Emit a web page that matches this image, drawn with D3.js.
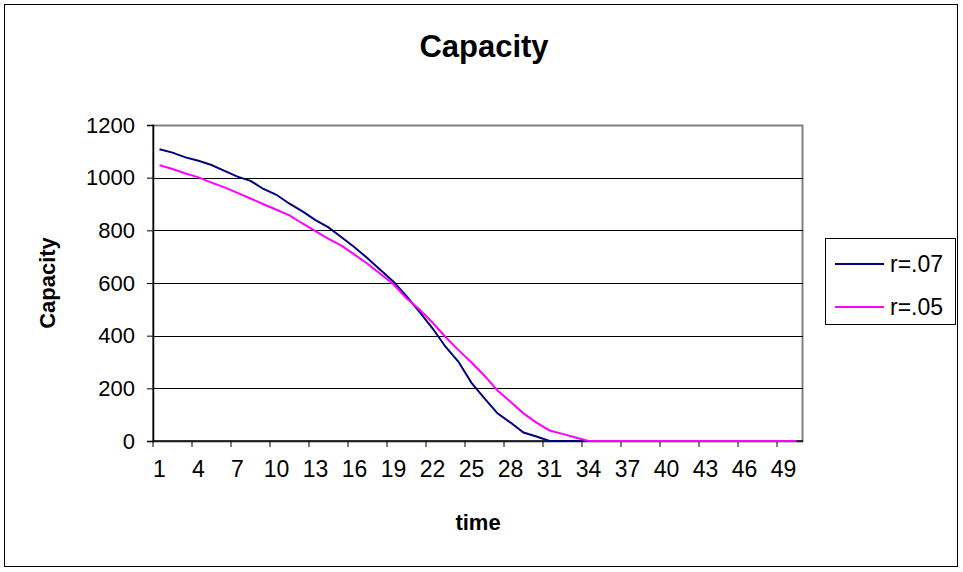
<!DOCTYPE html>
<html>
<head>
<meta charset="utf-8">
<script src="https://cdn.jsdelivr.net/npm/d3@7"></script>
<style>
  html, body { margin: 0; padding: 0; background: #fff; }
  svg text { font-family: "Liberation Sans", Arial, Helvetica, sans-serif; fill: #000; }
</style>
</head>
<body>
<svg id="chart" width="963" height="572"></svg>
<script>
// ---- data ----
const categories = d3.range(1, 51);
const seriesNames = ["r=.07", "r=.05"];
const r07 = [1108,1095,1077,1064,1048,1026,1004,988,957,935,
             901,872,839,811,774,736,694,649,605,550,
             490,428,358,301,221,162,105,70,32,17,
             0,0,0,0,0,0,0,0,0,0,
             0,0,0,0,0,0,0,0,0,0];
const r05 = [1047,1033,1016,1001,981,963,942,921,899,878,
             857,826,797,768,742,708,673,634,595,542,
             499,450,395,345,298,248,192,149,105,70,
             40,27,13,0,0,0,0,0,0,0,
             0,0,0,0,0,0,0,0,0,0];
const yTicks = [0, 200, 400, 600, 800, 1000, 1200];
const xTickLabels = categories.filter((d, i) => i % 3 === 0);
const colors = ["#000080", "#FF00FF"];

// ---- layout ----
const svg = d3.select("#chart");
const L = 153, R = 803, T = 125, B = 441;

svg.append("rect").attr("x", 4.5).attr("y", 4.5).attr("width", 953).attr("height", 562)
  .attr("fill", "#fff").attr("stroke", "#000").attr("stroke-width", 1);

const x = d3.scaleBand().domain(categories).range([L, R]).padding(0);
const y = d3.scaleLinear().domain([0, 1200]).range([B, T]);

// plot area border (gray)
svg.append("rect").attr("x", L).attr("y", T + 0.5).attr("width", R - L - 0.5).attr("height", B - T)
  .attr("fill", "none").attr("stroke", "#808080").attr("stroke-width", 2);

// gridlines
svg.append("g").selectAll("line").data(yTicks.filter(v => v > 0 && v < 1200)).join("line")
  .attr("x1", L).attr("x2", R).attr("y1", d => Math.round(y(d)) + 0.5).attr("y2", d => Math.round(y(d)) + 0.5)
  .attr("stroke", "#000").attr("stroke-width", 1);

// y axis
const yAxis = d3.axisLeft(y).tickValues(yTicks).tickFormat(d3.format("d")).tickSize(6).tickPadding(12);
const gy = svg.append("g").attr("transform", `translate(${L},0)`).call(yAxis);
gy.select(".domain").attr("stroke", "#000").attr("stroke-width", 1.5);
gy.selectAll(".tick line").attr("stroke", "#000");
gy.selectAll(".tick text").style("font-size", "22px").attr("fill", "#000");

// x axis with ticks between categories every 3
const gx = svg.append("g").attr("transform", `translate(0,${B})`);
gx.append("line").attr("x1", L).attr("x2", R).attr("y1", 0).attr("y2", 0)
  .attr("stroke", "#000").attr("stroke-width", 1.5);
gx.selectAll("line.tk").data(xTickLabels).join("line").attr("class", "tk")
  .attr("x1", d => x(d)).attr("x2", d => x(d)).attr("y1", 0).attr("y2", 6)
  .attr("stroke", "#000");
gx.selectAll("text").data(xTickLabels).join("text")
  .attr("x", d => x(d) + x.bandwidth() / 2).attr("y", 36)
  .attr("text-anchor", "middle").style("font-size", "23px").text(d => d);

// lines
const series = [r07, r05];
const line = d3.line().x((d, i) => x(categories[i]) + x.bandwidth() / 2).y(d => y(d));
series.forEach((s, k) => {
  svg.append("path").datum(s).attr("d", line)
    .attr("fill", "none").attr("stroke", colors[k]).attr("stroke-width", 2);
});

// titles
svg.append("text").attr("x", 484).attr("y", 57).attr("text-anchor", "middle")
  .style("font-size", "31px").style("font-weight", "bold").text("Capacity");
svg.append("text").attr("x", 478).attr("y", 530).attr("text-anchor", "middle")
  .style("font-size", "22px").style("font-weight", "bold").text("time");
svg.append("text").attr("transform", "translate(55,283) rotate(-90)").attr("text-anchor", "middle")
  .style("font-size", "22px").style("font-weight", "bold").text("Capacity");

// legend
const lg = svg.append("g");
lg.append("rect").attr("x", 825.5).attr("y", 238.5).attr("width", 130).attr("height", 86)
  .attr("fill", "#fff").attr("stroke", "#000").attr("stroke-width", 1);
seriesNames.forEach((n, k) => {
  const yy = 264 + k * 43;
  lg.append("line").attr("x1", 835).attr("x2", 884).attr("y1", yy).attr("y2", yy)
    .attr("stroke", colors[k]).attr("stroke-width", 2);
  lg.append("text").attr("x", 890).attr("y", yy + 8).style("font-size", "23px").text(n);
});
</script>
</body>
</html>
